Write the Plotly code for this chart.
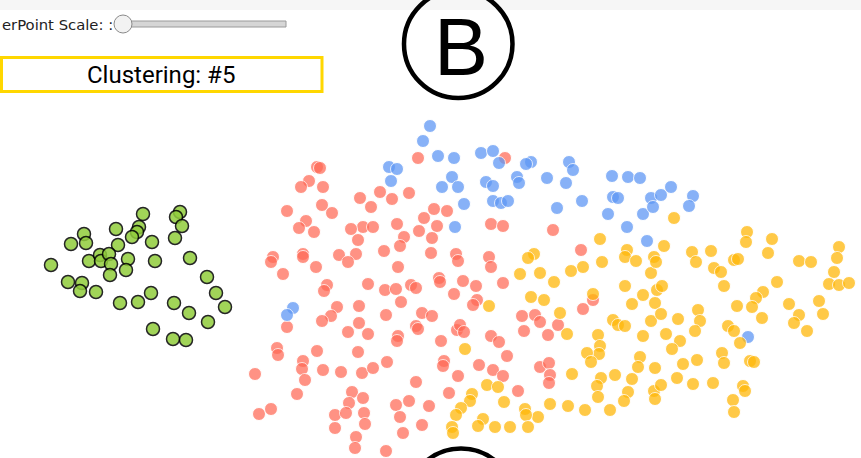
import plotly.graph_objects as go

# ---- data (embedding coordinates) ----
green_x = [143,180,176,182,175,116,139,137,132,84,86,71,118,152,51,89,100,101,109,111,128,126,110,155,190,68,82,80,96,207,120,138,151,216,225,174,189,208,153,173,186]
green_y = [214,212,217,226,238,229,227,232,237,234,243,244,245,242,265,261,255,261,254,264,259,270,275,261,258,282,283,291,292,277,303,302,293,293,307,303,313,322,329,339,340]

blue_x = [430,423,438,454,389,397,391,452,442,458,455,481,493,499,531,526,569,573,486,493,517,519,547,566,464,493,501,508,557,582,612,628,640,613,618,608,643,627,647,651,653,661,671,693,689,293,287,748]
blue_y = [126,141,156,158,167,169,181,177,187,187,227,153,151,163,162,164,162,170,182,186,177,183,178,183,204,201,203,201,208,201,176,177,178,197,198,214,214,227,241,198,207,195,187,196,206,308,315,337]

red_x = [418,317,320,309,301,323,360,380,392,409,371,322,332,287,434,447,424,306,299,314,397,363,373,351,437,419,404,432,358,400,384,431,339,356,348,273,271,303,303,316,283,398,
         327,324,368,385,396,411,416,439,440,454,401,337,331,322,359,386,422,432,287,359,348,368,416,418,398,397,441,457,277,278,317,358,303,302,305,323,341,362,373,387,444,443,255,458,297,416,352,349,363,449,259,271,335,346,364,365,396,409,429,400,335,422,403,356,355,386,
         505,491,503,553,456,458,489,491,581,463,476,503,
         477,473,522,535,540,558,524,548,583,593,460,464,491,499,507,479,493,503,540,549,550,549,518]
red_y = [158,167,168,181,187,187,198,192,199,193,207,205,213,211,209,211,218,221,228,232,224,227,227,229,226,231,237,238,240,246,251,253,255,254,262,257,262,254,257,267,274,267,
         285,291,284,290,289,285,288,278,282,294,302,307,316,321,306,315,313,316,327,323,332,334,326,329,336,341,341,330,348,355,351,352,361,369,380,370,372,373,368,362,361,366,374,376,394,382,392,403,398,393,414,409,415,413,413,424,405,401,406,417,428,425,433,437,448,451,
         158,224,226,230,254,261,257,267,250,281,286,283,
         300,305,316,315,322,325,331,335,309,300,325,332,336,342,356,365,370,376,367,363,375,383,391]

yellow_x = [600,534,528,602,583,571,627,625,636,520,540,554,651,
            489,531,544,560,567,465,598,600,599,587,591,572,601,597,615,598,625,643,632,613,618,625,651,643,640,638,655,632,628,624,654,655,610,585,568,550,538,525,526,528,510,495,483,478,504,487,498,472,470,461,456,452,453,593,
            674,747,746,772,768,664,654,656,692,696,711,734,738,714,721,799,811,839,837,834,
            657,662,724,777,763,756,752,829,839,849,789,799,794,819,823,807,762,737,655,661,678,698,700,695,666,680,672,728,734,740,722,724,750,754,697,683,677,693,713,661,743,745,733,734]
yellow_y = [239,254,258,262,267,271,250,257,261,274,273,282,273,
            306,297,300,313,334,349,335,346,354,353,362,374,378,386,375,397,286,295,304,320,325,326,321,336,357,367,368,379,392,401,391,399,410,410,406,404,417,409,415,427,427,427,419,426,402,385,387,394,401,408,415,427,433,294,
            218,232,242,239,253,246,257,262,252,262,251,260,259,268,272,261,262,247,258,272,
            290,286,286,282,292,298,307,284,285,283,304,315,323,301,314,331,318,306,303,314,319,310,321,331,334,341,349,326,331,343,353,363,361,362,360,364,378,384,383,385,386,391,400,412]

# ---- figure ----
fig = go.Figure()

def add(xs, ys, color, line_color, line_w, opacity):
    fig.add_trace(go.Scatter(
        x=xs, y=ys, mode="markers", hoverinfo="skip",
        marker=dict(size=13, color=color, opacity=opacity,
                    line=dict(color=line_color, width=line_w))))

add(red_x, red_y, "rgb(255,105,85)", "white", 1, 0.72)
add(blue_x, blue_y, "rgb(95,152,245)", "white", 1, 0.75)
add(yellow_x, yellow_y, "rgb(255,184,10)", "white", 1, 0.75)
add(green_x, green_y, "rgb(145,205,60)", "black", 1.5, 0.85)

shapes = [
    # top grey strip
    dict(type="rect", x0=0, x1=861, y0=0, y1=10, fillcolor="#f6f6f6", line=dict(width=0), layer="below"),
    # slider track
    dict(type="rect", x0=118, x1=286, y0=21, y1=27, fillcolor="#d6d6d6", line=dict(color="#9a9a9a", width=1)),
    # slider thumb
    dict(type="circle", x0=114, x1=132, y0=15, y1=33, fillcolor="#f2f2f2", line=dict(color="#8a8a8a", width=1)),
    # clustering box
    dict(type="rect", x0=1.5, x1=322, y0=57.5, y1=91.5, fillcolor="white", line=dict(color="#FFD700", width=3)),
    # big circle B
    dict(type="circle", x0=404, x1=512.5, y0=-10, y1=98, line=dict(color="black", width=4.5)),
    # bottom circle
    dict(type="circle", x0=407, x1=515, y0=448.5, y1=556.5, line=dict(color="black", width=4.5)),
]

annotations = [
    dict(x=0, y=24, xref="x", yref="y", text="erPoint Scale: :", showarrow=False,
         xanchor="left", yanchor="middle", font=dict(family="DejaVu Sans", size=14.8, color="#222")),
    dict(x=161, y=74.5, xref="x", yref="y", text="Clustering: #5", showarrow=False,
         xanchor="center", yanchor="middle", font=dict(family="Roboto", size=24, color="black")),
    dict(x=460.5, y=46.5, xref="x", yref="y", text="B", showarrow=False,
         xanchor="center", yanchor="middle", font=dict(family="Liberation Sans", size=81, color="black")),
]

fig.update_layout(
    width=861, height=458, margin=dict(l=0, r=0, t=0, b=0),
    paper_bgcolor="white", plot_bgcolor="white", showlegend=False,
    xaxis=dict(range=[0, 861], visible=False, fixedrange=True),
    yaxis=dict(range=[458, 0], visible=False, fixedrange=True),
    shapes=shapes, annotations=annotations,
)

fig.write_html("out.html", config={"displayModeBar": False},
               post_script="document.body.style.margin='0';document.body.style.overflow='hidden';")
